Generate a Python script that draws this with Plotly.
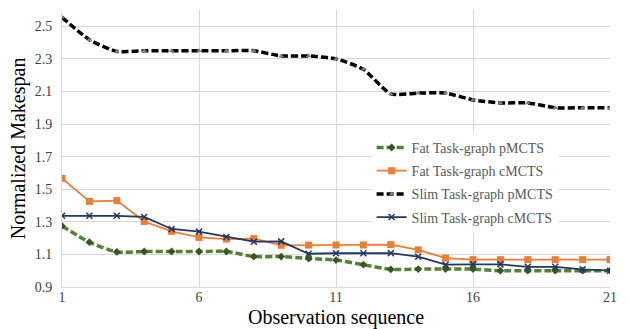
import plotly.graph_objects as go

x_seq = list(range(1, 22))
fat_pmcts = [1.275, 1.175, 1.115, 1.118, 1.118, 1.118, 1.118, 1.087, 1.087, 1.075, 1.065,
             1.037, 1.008, 1.010, 1.010, 1.010, 1.000, 1.000, 1.000, 1.000, 1.000]
fat_cmcts = [1.567, 1.425, 1.430, 1.302, 1.242, 1.204, 1.194, 1.197, 1.156, 1.157, 1.158,
             1.158, 1.160, 1.128, 1.077, 1.068, 1.068, 1.068, 1.068, 1.068, 1.068]
slim_pmcts = [2.555, 2.418, 2.346, 2.350, 2.350, 2.350, 2.350, 2.350, 2.318, 2.318, 2.300,
              2.236, 2.085, 2.090, 2.090, 2.048, 2.030, 2.030, 2.000, 2.000, 2.000]
slim_cmcts = [1.337, 1.337, 1.337, 1.330, 1.256, 1.240, 1.207, 1.178, 1.180, 1.104, 1.107,
              1.107, 1.108, 1.086, 1.037, 1.039, 1.039, 1.024, 1.024, 1.008, 1.000]

names = ["Fat Task-graph pMCTS", "Fat Task-graph cMCTS",
         "Slim Task-graph pMCTS", "Slim Task-graph cMCTS"]
y_ticks = [0.9, 1.1, 1.3, 1.5, 1.7, 1.9, 2.1, 2.3, 2.5]
x_ticks = [1, 6, 11, 16, 21]
x_title = "Observation sequence"
y_title = "Normalized Makespan"

serif = "Liberation Serif"

fig = go.Figure()
fig.add_trace(go.Scatter(
    x=x_seq, y=fat_pmcts, name=names[0], legendgroup="a", mode="lines+markers",
    line=dict(color="#548235", width=3.5, dash="7px,3px", shape="spline", smoothing=0.6),
    marker=dict(symbol="diamond", size=6, color="#375623")))
fig.add_trace(go.Scatter(
    x=x_seq, y=fat_cmcts, name=names[1], legendgroup="b", mode="lines+markers",
    line=dict(color="#ED7D31", width=1.8),
    marker=dict(symbol="square", size=7, color="#ED7D31")))
fig.add_trace(go.Scatter(
    x=x_seq, y=slim_pmcts, name=names[2], legendgroup="c", mode="lines+markers",
    line=dict(color="#000000", width=3.5, dash="7px,3px", shape="spline", smoothing=0.6),
    marker=dict(symbol="triangle-up", size=5, color="#7F7F7F")))
fig.add_trace(go.Scatter(
    x=x_seq, y=slim_cmcts, name=names[3], legendgroup="d", mode="lines+markers",
    line=dict(color="#1F3864", width=1.8),
    marker=dict(symbol="x-thin", size=6, color="#1F3864",
                line=dict(color="#1F3864", width=1.5))))

fig.update_layout(
    width=629, height=329,
    margin=dict(l=54, r=27, t=2, b=50),
    plot_bgcolor="white", paper_bgcolor="white",
    font=dict(family=serif, color="#404040", size=14),
    showlegend=True,
    legend=dict(x=0.565, y=0.56, xanchor="left", yanchor="top",
                bgcolor="white", font=dict(family=serif, size=14, color="#595959"),
                tracegroupgap=2, itemwidth=30),
    xaxis=dict(range=[1, 21], tickvals=x_ticks, ticktext=[str(v) for v in x_ticks],
               showgrid=True, gridcolor="#D9D9D9", gridwidth=1,
               zeroline=False, showline=True, linecolor="#D9D9D9",
               ticks="", ticklabelstandoff=-3,
               tickfont=dict(family=serif, size=14, color="#404040")),
    yaxis=dict(range=[0.9, 2.6], tickvals=y_ticks, ticktext=[f"{v:.1f}" for v in y_ticks],
               showgrid=True, gridcolor="#D9D9D9", gridwidth=1,
               zeroline=False, showline=True, linecolor="#D9D9D9", ticks="",
               ticklabelstandoff=6,
               tickfont=dict(family=serif, size=14, color="#404040")),
    annotations=[
        dict(text=x_title, xref="paper", yref="paper", x=0.5, y=-0.11,
             xanchor="center", yanchor="middle", showarrow=False,
             font=dict(family=serif, size=20, color="#000000")),
        dict(text=y_title, xref="paper", yref="paper", x=-0.079, y=0.5,
             xanchor="center", yanchor="middle", showarrow=False, textangle=-90,
             font=dict(family=serif, size=20, color="#000000")),
    ],
)

fig.write_html("out.html")
